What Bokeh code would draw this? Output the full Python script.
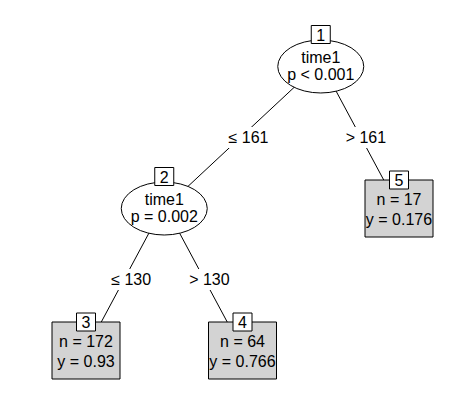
from bokeh.plotting import figure
from bokeh.models import Range1d
from bokeh.embed import file_html
from bokeh.resources import INLINE
from bokeh.core.properties import value

# ---- tree data ----
node_ids = [1, 2, 3, 4, 5]
children = {1: (2, 5), 2: (3, 4)}
split_var = {1: "time1", 2: "time1"}
p_text = {1: "p < 0.001", 2: "p = 0.002"}
split_break = {1: 161, 2: 130}
term_n = {3: 172, 4: 64, 5: 17}
term_y = {3: "0.93", 4: "0.766", 5: "0.176"}

# ---- layout (party "simple" style) ----
UX, X0 = 156.5, 7.25     # px per terminal unit, offset
UY, Y0 = 142.0, 66.0     # px per depth level, offset

def n_term(n):
    if n not in children:
        return 1
    return sum(n_term(c) for c in children[n])

pos = {}
def layout(n, left, depth):
    if n not in children:
        pos[n] = (left + 0.5, depth)
        return
    l, r = children[n]
    pos[n] = (left + n_term(l), depth)
    layout(l, left, depth + 1)
    layout(r, left + n_term(l), depth + 1)

layout(1, 0, 1)
px = {k: X0 + UX * u for k, (u, d) in pos.items()}
py = {k: Y0 + UY * (d - 1) for k, (u, d) in pos.items()}

FONT = value("Liberation Sans")
FS = "16px"

p = figure(width=441, height=386, output_backend="svg", toolbar_location=None,
           x_range=Range1d(0, 441), y_range=Range1d(386, 0),
           x_axis_location=None, y_axis_location=None, min_border=0)
p.grid.visible = False
p.outline_line_color = None
p.background_fill_color = "white"

# edges
ex0, ey0, ex1, ey1, lx, ly, lt = [], [], [], [], [], [], []
for par, (l, r) in children.items():
    for c, lab in ((l, "\u2264 %d" % split_break[par]), (r, "> %d" % split_break[par])):
        ex0.append(px[par]); ey0.append(py[par] - 4); ex1.append(px[c]); ey1.append(py[c])
        lx.append((px[par] + px[c]) / 2 + 6); ly.append((py[par] + py[c]) / 2)
        lt.append(lab)
p.segment(ex0, ey0, ex1, ey1, line_color="black", line_width=1)
p.rect(lx, ly, width=44, height=21, fill_color="white", line_color=None)
p.text(lx, ly, text=lt, text_font=FONT, text_font_size=FS,
       text_align="center", text_baseline="middle", text_color="black")

# inner nodes
inner = [k for k in node_ids if k in children]
ix = [px[k] for k in inner]; iy = [py[k] for k in inner]
p.ellipse(ix, iy, width=86, height=53, fill_color="white", line_color="black", line_width=1)
p.text(ix, [y - 9 for y in iy], text=[split_var[k] for k in inner], text_font=FONT,
       text_font_size=FS, text_align="center", text_baseline="middle", text_color="black")
p.text(ix, [y + 7.5 for y in iy], text=[p_text[k] for k in inner], text_font=FONT,
       text_font_size=FS, text_align="center", text_baseline="middle", text_color="black")

# terminal nodes
term = [k for k in node_ids if k not in children]
tx = [px[k] for k in term]; ty = [py[k] for k in term]
p.rect(tx, ty, width=68, height=57, fill_color="#D3D3D3", line_color="black", line_width=1)
p.text(tx, [y - 9 for y in ty], text=["n = %d" % term_n[k] for k in term], text_font=FONT,
       text_font_size=FS, text_align="center", text_baseline="middle", text_color="black")
p.text(tx, [y + 11 for y in ty], text=["y = %s" % term_y[k] for k in term], text_font=FONT,
       text_font_size=FS, text_align="center", text_baseline="middle", text_color="black")

# node id boxes
bx = ix + tx
by = [y - 32 for y in iy] + [y - 28.5 for y in ty]
bt = [str(k) for k in inner + term]
p.rect(bx, by, width=19, height=18, fill_color="white", line_color="black", line_width=1)
p.text(bx, by, text=bt, text_font=FONT, text_font_size=FS,
       text_align="center", text_baseline="middle", text_color="black")

open("out.html", "w").write(file_html(p, INLINE))
